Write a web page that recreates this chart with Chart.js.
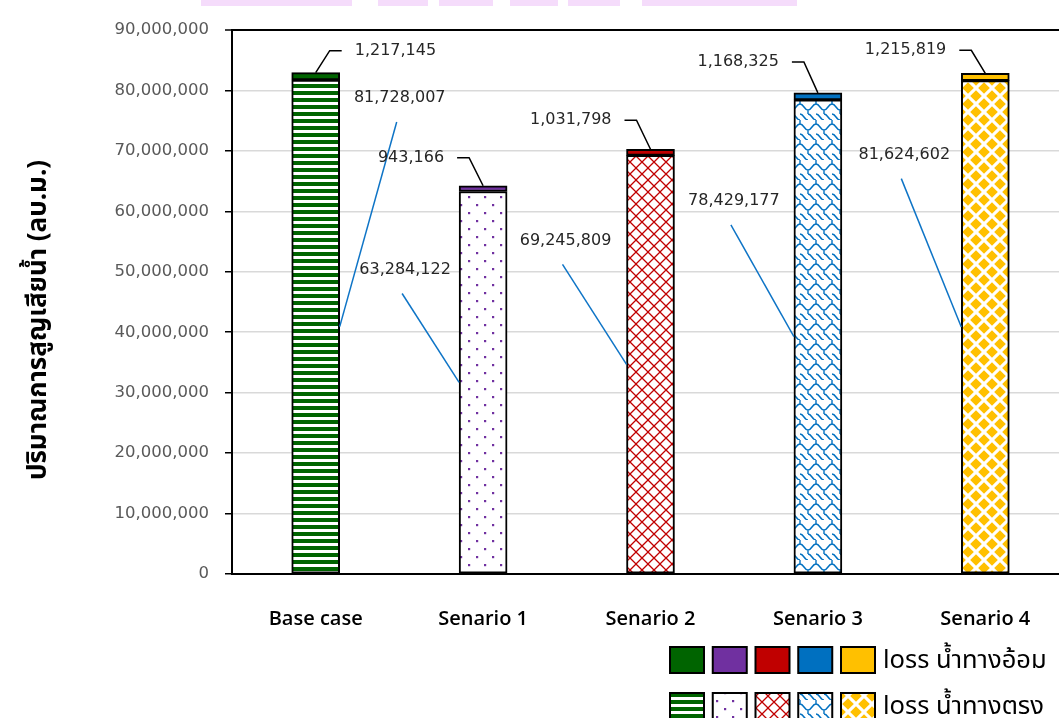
<!DOCTYPE html>
<html>
<head>
<meta charset="utf-8">
<script src="https://cdn.jsdelivr.net/npm/chart.js@4.4.1/dist/chart.umd.min.js"></script>
<style>
  html, body { margin: 0; padding: 0; background: #fff; overflow: hidden; }
  #wrap { width: 1059px; height: 718px; overflow: hidden; position: relative; }
  canvas { display: block; }
</style>
</head>
<body>
<div id="wrap"><canvas id="lossChart" width="1083" height="718"></canvas></div>
<script>
// ---- data ----
const categories = ['Base case', 'Senario 1', 'Senario 2', 'Senario 3', 'Senario 4'];
const directLoss = [81728007, 63284122, 69245809, 78429177, 81624602];   // น้ำทางตรง
const indirectLoss = [1217145, 943166, 1031798, 1168325, 1215819];       // น้ำทางอ้อม
const yTickValues = [0, 10000000, 20000000, 30000000, 40000000, 50000000, 60000000, 70000000, 80000000, 90000000];
const seriesNames = ['loss น้ำทางอ้อม', 'loss น้ำทางตรง'];
const yAxisTitle = 'ปริมาณการสูญเสียน้ำ (ลบ.ม.)';

// ---- styles ----
const barColors = ['#006400', '#7030A0', '#C00000', '#0070C0', '#FFC000'];
const thaiFont = '"Noto Sans Thai", "Noto Sans Thai UI", "Loma", "Garuda", "Noto Sans", sans-serif';
const latinFont = '"Open Sans", "Noto Sans", sans-serif';
const numFont = '"DejaVu Sans", sans-serif';

// label placement (pixel offsets from the bar they describe)
const directLabelOffset = [
  { dx: 84, dy: 18 }, { dx: -78, dy: 78 }, { dx: -85, dy: 85 }, { dx: -84, dy: 101 }, { dx: -81, dy: 74 }
];
const indirectLabelOffset = [
  { side: 1, dy: -22 }, { side: -1, dy: -28 }, { side: -1, dy: -29 }, { side: -1, dy: -31 }, { side: -1, dy: -23 }
];

const fmt = v => v.toLocaleString('en-US');

// ---- fill patterns for the lower (direct) segments ----
const canvas = document.getElementById('lossChart');
const ctx0 = canvas.getContext('2d');

function tile(w, h, draw) {
  const c = document.createElement('canvas');
  c.width = w; c.height = h;
  const g = c.getContext('2d');
  g.fillStyle = '#fff';
  g.fillRect(0, 0, w, h);
  draw(g, w, h);
  return ctx0.createPattern(c, 'repeat');
}

const patterns = [
  // horizontal stripes
  tile(8, 7, g => { g.fillStyle = barColors[0]; g.fillRect(0, 0, 8, 4); }),
  // sparse dots
  tile(16, 16, g => {
    g.fillStyle = barColors[1];
    g.fillRect(4, 4, 2.2, 2.2);
    g.fillRect(12, 12, 2.2, 2.2);
  }),
  // diagonal lattice
  tile(12, 12, g => {
    g.strokeStyle = barColors[2]; g.lineWidth = 1.3;
    g.beginPath();
    g.moveTo(-2, -2); g.lineTo(14, 14);
    g.moveTo(14, -2); g.lineTo(-2, 14);
    g.stroke();
  }),
  // shingles
  tile(16, 20, g => {
    g.strokeStyle = barColors[3]; g.lineWidth = 1.4;
    g.beginPath();
    g.moveTo(0, 4);
    g.bezierCurveTo(4, 4, 4, 10, 8, 10);
    g.bezierCurveTo(12, 10, 12, 4, 16, 4);
    g.moveTo(8, 10);
    g.lineTo(8, 14);
    g.moveTo(0, 14);
    g.bezierCurveTo(4, 14, 4, 20, 8, 20);
    g.moveTo(8, 14);
    g.bezierCurveTo(12, 14, 12, 20, 16, 20);
    g.moveTo(0, 0); g.lineTo(0, 4);
    g.moveTo(16, 0); g.lineTo(16, 4);
    g.stroke();
  }),
  // solid diamonds
  tile(16, 16, g => {
    g.fillStyle = barColors[4];
    const d = (cx, cy, r) => {
      g.beginPath();
      g.moveTo(cx, cy - r); g.lineTo(cx + r, cy); g.lineTo(cx, cy + r); g.lineTo(cx - r, cy);
      g.closePath(); g.fill();
    };
    const r = 5.8;
    d(8, 8, r);
    d(0, 0, r); d(16, 0, r); d(0, 16, r); d(16, 16, r);
  })
];

// ---- plugins ----
const headerBand = {
  id: 'headerBand',
  beforeDraw(chart) {
    const c = chart.ctx;
    c.save();
    c.fillStyle = '#f5dcfb';
    [[201, 352], [378, 428], [439, 493], [510, 558], [568, 620], [642, 797]].forEach(([a, b]) => {
      c.fillRect(a, 0, b - a, 6);
    });
    c.restore();
  }
};

const valueLabels = {
  id: 'valueLabels',
  afterDatasetsDraw(chart) {
    const c = chart.ctx;
    const lower = chart.getDatasetMeta(0).data;
    const upper = chart.getDatasetMeta(1).data;
    c.save();
    c.font = '16px ' + numFont;
    c.fillStyle = '#262626';
    c.textBaseline = 'middle';

    directLoss.forEach((v, i) => {
      const bar = lower[i];
      const o = directLabelOffset[i];
      const tx = bar.x + o.dx, ty = bar.y + o.dy;
      c.textAlign = 'center';
      c.fillText(fmt(v), tx, ty);
      const edgeX = o.dx > 0 ? bar.x + bar.width / 2 : bar.x - bar.width / 2;
      const midY = (bar.y + bar.base) / 2;
      c.strokeStyle = '#0E74C6';
      c.lineWidth = 1.5;
      c.beginPath();
      c.moveTo(tx - 3, ty + 24);
      c.lineTo(edgeX, midY);
      c.stroke();
    });

    indirectLoss.forEach((v, i) => {
      const bar = upper[i];
      const o = indirectLabelOffset[i];
      const ly = bar.y + o.dy;
      const elbowX = bar.x + o.side * 14;
      const endX = bar.x + o.side * 26;
      c.strokeStyle = '#000';
      c.lineWidth = 1.5;
      c.beginPath();
      c.moveTo(bar.x, bar.y);
      c.lineTo(elbowX, ly);
      c.lineTo(endX, ly);
      c.stroke();
      c.textAlign = o.side > 0 ? 'left' : 'right';
      c.fillText(fmt(v), endX + o.side * 13, ly);
    });
    c.restore();
  }
};

const sideDecor = {
  id: 'sideDecor',
  afterDraw(chart) {
    const c = chart.ctx;
    const area = chart.chartArea;
    c.save();
    // y-axis title
    c.translate(41, (area.top + area.bottom) / 2 + 18);
    c.rotate(-Math.PI / 2);
    c.font = 'bold 26px ' + thaiFont;
    c.fillStyle = '#000';
    c.textAlign = 'center';
    c.textBaseline = 'middle';
    c.fillText(yAxisTitle, 0, 0);
    c.restore();

    // legend: upper row solid swatches, lower row patterned swatches
    c.save();
    const rows = [
      { y: 647, fills: barColors, text: seriesNames[0] },
      { y: 693, fills: patterns, text: seriesNames[1] }
    ];
    rows.forEach(r => {
      r.fills.forEach((f, i) => {
        const x = 670 + i * 42.75;
        c.fillStyle = f;
        c.fillRect(x, r.y, 34, 26);
        c.strokeStyle = '#000';
        c.lineWidth = 2;
        c.strokeRect(x, r.y, 34, 26);
      });
      c.font = '25.5px ' + thaiFont;
      c.fillStyle = '#000';
      c.textAlign = 'left';
      c.textBaseline = 'middle';
      c.fillText(r.text, 883, r.y + 16);
    });
    c.restore();
  }
};

// ---- chart ----
new Chart(canvas, {
  type: 'bar',
  data: {
    labels: categories,
    datasets: [
      {
        label: seriesNames[1],
        data: directLoss,
        backgroundColor: patterns,
        borderColor: '#000',
        borderWidth: 2,
        borderSkipped: false,
        barThickness: 48
      },
      {
        label: seriesNames[0],
        data: indirectLoss,
        backgroundColor: barColors,
        borderColor: '#000',
        borderWidth: 2,
        borderSkipped: false,
        barThickness: 48
      }
    ]
  },
  options: {
    responsive: false,
    animation: false,
    devicePixelRatio: 1,
    layout: { padding: { top: 30, right: 14, left: 0, bottom: 0 } },
    plugins: { legend: { display: false }, tooltip: { enabled: false } },
    scales: {
      x: {
        stacked: true,
        grid: { display: false, drawTicks: false },
        border: { display: true, color: '#000', width: 2 },
        ticks: { padding: 33, color: '#000', font: { family: latinFont, size: 20, weight: '600' } },
        afterFit(s) { s.height = 144; }
      },
      y: {
        stacked: true,
        min: 0,
        max: 90000000,
        afterBuildTicks(s) { s.ticks = yTickValues.map(v => ({ value: v })); },
        ticks: {
          callback: v => fmt(v),
          color: '#595959',
          font: { family: numFont, size: 16.5 },
          padding: 16
        },
        grid: {
          color: c => (c.tick && c.tick.value === 90000000 ? '#000' : '#d9d9d9'),
          lineWidth: c => (c.tick && c.tick.value === 90000000 ? 2 : 1.5),
          tickLength: 7,
          tickColor: '#000',
          tickWidth: 1.5
        },
        border: { color: '#000', width: 2 },
        afterFit(s) { s.width = 232; }
      }
    }
  },
  plugins: [headerBand, valueLabels, sideDecor]
});
</script>
</body>
</html>
